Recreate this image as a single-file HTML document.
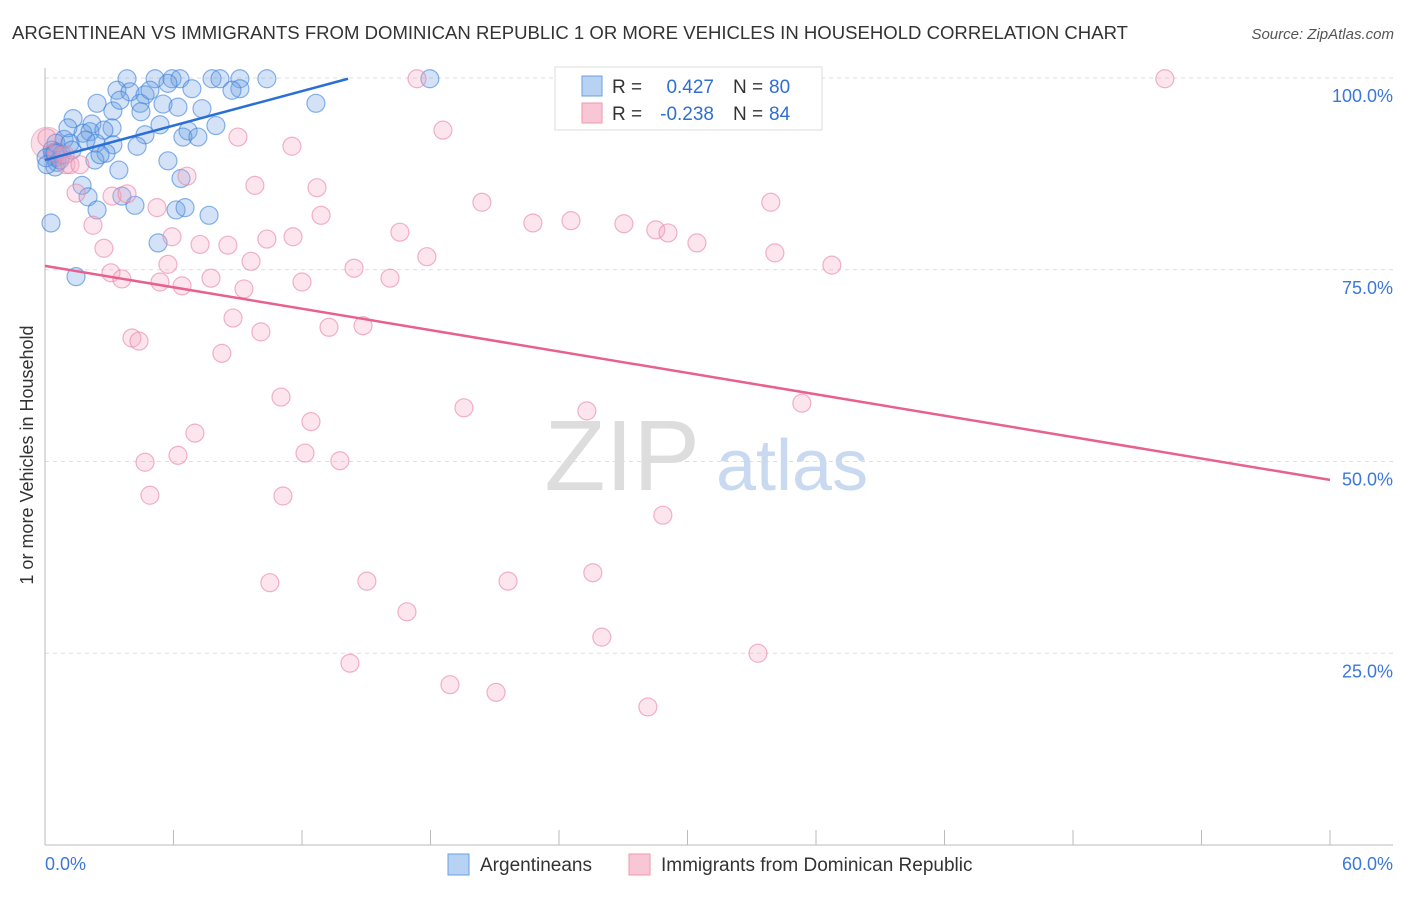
<!DOCTYPE html>
<html><head><meta charset="utf-8"><style>
body{margin:0;background:#fff;font-family:"Liberation Sans",sans-serif}
svg text{font-family:"Liberation Sans",sans-serif}
</style></head><body>
<svg id="chart" width="1406" height="892" xmlns="http://www.w3.org/2000/svg">
<text x="12" y="39" font-size="18.6" fill="#333" textLength="1116" lengthAdjust="spacingAndGlyphs">ARGENTINEAN VS IMMIGRANTS FROM DOMINICAN REPUBLIC 1 OR MORE VEHICLES IN HOUSEHOLD CORRELATION CHART</text>
<text x="1394" y="39" font-size="15" fill="#555" text-anchor="end" font-style="italic">Source: ZipAtlas.com</text>
<g id="grid"></g>
<text x="700" y="490" font-size="100" fill="#ddd" text-anchor="end" font-family="Liberation Serif">ZIP</text>
<text x="716" y="490" font-size="72" fill="#c9daf0">atlas</text>
<g id="marks"></g>
<text transform="translate(33,455) rotate(-90)" font-size="18" fill="#333" text-anchor="middle">1 or more Vehicles in Household</text>
<g>
<rect x="555" y="67" width="267" height="63" fill="#fff" stroke="#ddd"/>
<rect x="582" y="76" width="20" height="20" fill="#b7d2f3" stroke="#6aa0e0"/>
<rect x="582" y="103" width="20" height="20" fill="#f9c6d6" stroke="#eb9ab5"/>
<text x="612" y="93" font-size="19" fill="#333">R =</text>
<text x="714" y="93" font-size="19" fill="#2f6fd0" text-anchor="end">0.427</text>
<text x="733" y="93" font-size="19" fill="#333">N =</text>
<text x="769" y="93" font-size="19" fill="#2f6fd0">80</text>
<text x="612" y="120" font-size="19" fill="#333">R =</text>
<text x="714" y="120" font-size="19" fill="#2f6fd0" text-anchor="end">-0.238</text>
<text x="733" y="120" font-size="19" fill="#333">N =</text>
<text x="769" y="120" font-size="19" fill="#2f6fd0">84</text>
</g>
<g>
<rect x="448" y="854" width="21" height="21" fill="#b7d2f3" stroke="#6aa0e0"/>
<text x="480" y="871" font-size="19" fill="#333">Argentineans</text>
<rect x="629" y="854" width="21" height="21" fill="#f9c6d6" stroke="#eb9ab5"/>
<text x="661" y="871" font-size="19" fill="#333">Immigrants from Dominican Republic</text>
</g>
</svg>
<script>
const blueX=[3.83,5.14,5.93,6.30,7.80,8.17,9.10,10.36,17.97,3.36,3.97,4.67,5.74,6.86,9.10,2.43,4.44,5.51,6.21,7.33,4.48,3.17,12.65,1.31,2.19,3.13,5.37,6.68,7.98,1.77,0.89,2.10,2.75,1.07,4.67,6.44,7.14,2.38,3.17,0.51,1.17,4.30,0.33,0.79,0.56,1.26,2.85,2.33,5.74,2.57,0.47,1.73,3.45,6.35,3.59,2.01,2.43,4.20,6.12,7.66,6.54,5.28,0.28,1.45,0.05,0.09,0.70,1.91,0.47,4.90,8.73,3.50];
const blueY=[99.9,99.9,99.9,99.9,99.9,99.9,99.9,99.9,99.9,98.4,98.2,97.8,99.3,98.6,98.6,96.7,96.7,96.6,96.2,96.0,95.6,95.7,96.7,94.7,94.0,93.5,93.9,93.1,93.8,92.8,92.0,93.0,93.2,93.5,92.6,92.3,92.3,91.5,91.3,91.5,91.5,91.1,90.6,90.0,89.0,90.6,90.2,89.3,89.2,90.0,88.4,86.0,88.0,86.9,84.6,84.5,82.8,83.4,82.8,82.1,83.1,78.5,81.1,74.1,89.6,88.7,89.3,91.9,90.2,98.4,98.4,97.1];
const pinkX=[17.37,52.29,18.58,9.01,11.53,6.63,0.56,0.98,1.17,9.80,12.70,1.45,3.13,3.83,5.23,12.89,20.40,22.78,24.56,27.03,28.52,29.09,33.89,2.24,5.93,10.36,11.58,16.57,7.24,8.54,2.75,30.44,34.08,17.83,5.74,9.62,14.43,36.74,3.08,3.59,5.37,6.40,7.75,9.29,12.00,16.11,8.78,13.26,14.85,10.08,4.06,4.39,8.26,11.02,19.56,25.30,35.34,12.42,7.00,12.14,4.67,6.21,13.77,4.90,11.11,28.85,10.50,15.03,21.62,25.58,16.90,26.00,14.24,33.29,18.91,21.06,28.15,0.09,0.93,1.63];
const pinkY=[99.9,99.9,93.2,92.3,91.1,87.2,90.0,88.7,88.7,86.0,85.7,85.0,84.6,84.9,83.1,82.1,83.8,81.1,81.4,81.0,80.2,79.8,83.8,80.8,79.3,79.0,79.3,79.9,78.3,78.2,77.8,78.5,77.2,76.7,75.7,76.1,75.2,75.6,74.6,73.8,73.4,72.9,73.9,72.5,73.4,73.9,68.7,67.5,67.7,66.9,66.1,65.7,64.1,58.4,57.0,56.6,57.6,55.2,53.7,51.1,49.9,50.8,50.1,45.6,45.5,43.0,34.2,34.4,34.4,35.5,30.4,27.1,23.7,25.0,20.9,19.9,18.0,92.2,90.0,88.7];
const blueTrend=[0,89.3,14.15,99.9];
const pinkTrend=[0,75.5,60,47.6];
const yTicks=[100,75,50,25];
const yTickLabels=["100.0%","75.0%","50.0%","25.0%"];
const xTicks=[0,6,12,18,24,30,36,42,48,54,60];
const NS="http://www.w3.org/2000/svg";
const X=v=>45+v/60*1285, Y=v=>845-v/100*767;
const grid=document.getElementById('grid'), marks=document.getElementById('marks');
function mk(p,tag,a){const e=document.createElementNS(NS,tag);for(const k in a)e.setAttribute(k,a[k]);p.appendChild(e);return e;}
yTicks.forEach((t,i)=>{
 const l=mk(grid,'line',{x1:45,x2:1393,y1:Y(t),y2:Y(t),stroke:'#ddd','stroke-dasharray':'4,4'});
 
 
 const tx=mk(grid,'text',{x:1393,y:Y(t)+24,'font-size':18,fill:'#3b78d8','text-anchor':'end'});tx.textContent=yTickLabels[i];
 
 
});
mk(grid,'line',{x1:45,x2:45,y1:68,y2:845,stroke:'#bbb'});
mk(grid,'line',{x1:45,x2:1393,y1:845,y2:845,stroke:'#bbb'});
xTicks.forEach(t=>{const l=mk(grid,'line',{x1:X(t),x2:X(t),y1:830,y2:845,stroke:'#bbb'});
 
 });
const x0=mk(grid,'text',{x:45,y:870,'font-size':18,fill:'#3b78d8'});x0.textContent='0.0%';


const x1=mk(grid,'text',{x:1393,y:870,'font-size':18,fill:'#3b78d8','text-anchor':'end'});x1.textContent='60.0%';


mk(marks,'circle',{cx:X(0.1),cy:Y(91.5),r:16,fill:'rgba(240,150,180,0.3)',stroke:'rgba(232,130,165,0.5)'});
mk(marks,'circle',{cx:X(0.5),cy:Y(90),r:12,fill:'rgba(150,120,200,0.4)',stroke:'rgba(140,110,190,0.5)'});
blueX.forEach((x,i)=>{const c=mk(marks,'circle',{cx:X(x),cy:Y(blueY[i]),r:9,fill:'rgba(110,160,225,0.3)',stroke:'rgba(60,130,220,0.6)','stroke-width':1.2});
 
 });
pinkX.forEach((x,i)=>{const c=mk(marks,'circle',{cx:X(x),cy:Y(pinkY[i]),r:9,fill:'rgba(245,170,195,0.3)',stroke:'rgba(232,130,165,0.6)','stroke-width':1.2});
 
 });
const bl=mk(marks,'line',{x1:X(blueTrend[0]),y1:Y(blueTrend[1]),x2:X(blueTrend[2]),y2:Y(blueTrend[3]),stroke:'#2a6fd6','stroke-width':2.5});


const pl=mk(marks,'line',{x1:X(pinkTrend[0]),y1:Y(pinkTrend[1]),x2:X(pinkTrend[2]),y2:Y(pinkTrend[3]),stroke:'#e8608f','stroke-width':2.5});


</script>
</body></html>
